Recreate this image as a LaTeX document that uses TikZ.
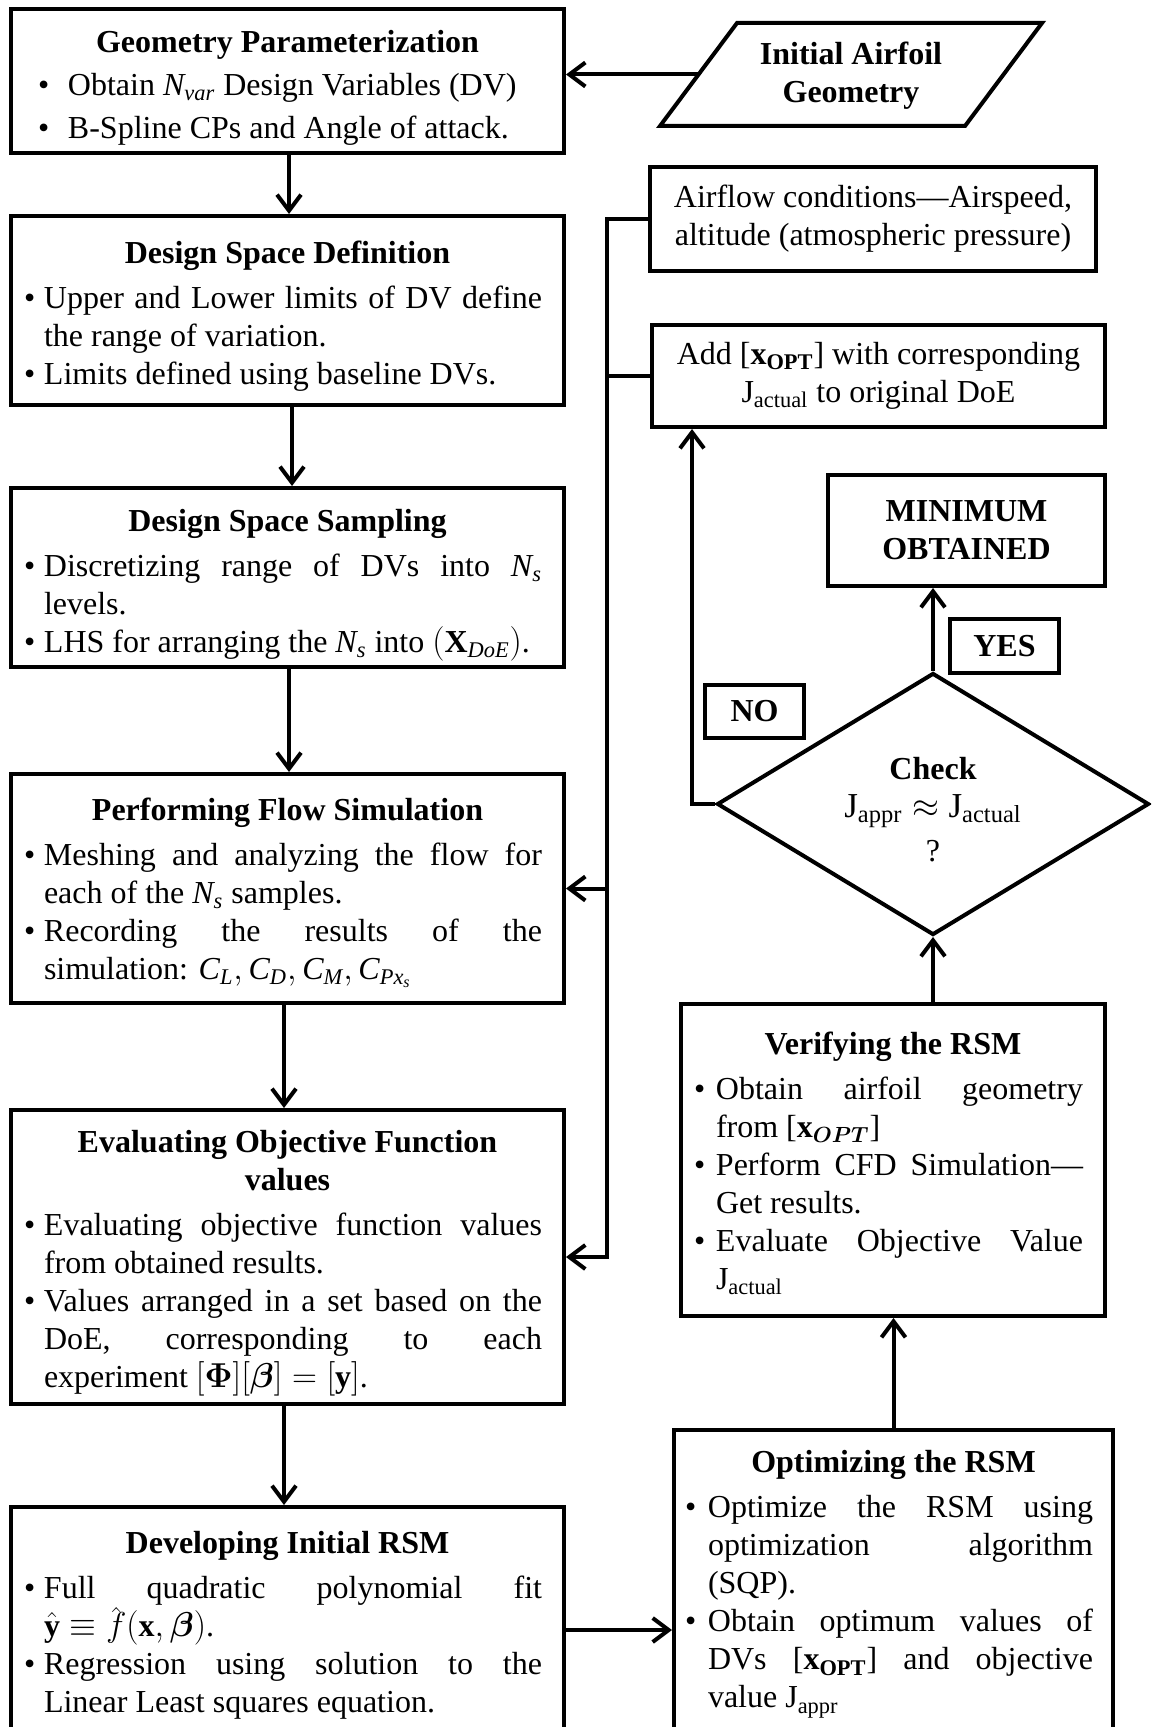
\documentclass[tikz,border=0pt]{standalone}
\usepackage{amsmath}
\usepackage{bm}
\usepackage{fontspec}
\setmainfont{Liberation Serif}
\usetikzlibrary{arrows.meta,shapes.geometric,calc}
\newdimen\bxl \newdimen\bxr \newdimen\bxi
\newcommand\boxsetup{\parindent=0pt\parskip=0pt\tolerance=10000\hbadness=10000\hyphenpenalty=10000\exhyphenpenalty=10000}
\newcommand\ttl[3][3.5pt]{{\centering\bfseries\rule{0pt}{#2}#3\par}\vspace{#1}}
\newcommand\bul[1]{{\leftskip=\bxl\relax\rightskip=\bxr\relax\hangindent=\bxi\relax\hangafter=1\relax\noindent\hbox to\bxi{\textbullet\hfil}#1\par}}
\begin{document}
\begin{tikzpicture}[x=0.5pt,y=-0.5pt,line width=2pt,
  font=\fontsize{16}{19}\selectfont,
  arr/.style={-{Straight Barb[length=8pt,width=12pt]}},
  lbox/.style={draw, inner xsep=0pt, inner ysep=0pt, text width=276.5pt, minimum width=276.5pt, align=justify,
    execute at begin node={\boxsetup\bxl=6.5pt\bxr=11pt\bxi=10pt}},
  lboxa/.style={lbox, font=\fontsize{16}{21.5}\selectfont,
    execute at begin node={\boxsetup\bxl=13.5pt\bxr=11pt\bxi=15pt}},
  rboxo/.style={draw, inner xsep=0pt, inner ysep=0pt, text width=219.5pt, minimum width=219.5pt, align=justify,
    execute at begin node={\boxsetup\bxl=5.5pt\bxr=10pt\bxi=11.5pt}},
  rboxv/.style={draw, inner xsep=0pt, inner ysep=0pt, text width=212pt, minimum width=212pt, align=justify,
    execute at begin node={\boxsetup\bxl=6.5pt\bxr=11pt\bxi=11pt}},
  cbox/.style={draw, inner sep=0pt, align=center},
  tag/.style={draw, inner sep=0pt, align=center, line width=1.7pt, font=\fontsize{16}{19}\selectfont\bfseries}
]
\useasboundingbox (0,0) rectangle (1151,1727);
\clip (0,0) rectangle (1151,1727);

% left column
\node[lboxa, minimum height=72pt] (b1) at (287.5,81)
 {\ttl[0pt]{18.2pt}{Geometry Parameterization}\bul{Obtain $\mathit{N_{var}}$ Design Variables (DV)}\bul{B-Spline CPs and Angle of attack.}};
\node[lbox, minimum height=94.5pt] (b2) at (287.5,310.5)
 {\ttl{16.5pt}{Design Space Definition}\bul{Upper and Lower limits of DV define\linebreak the range of variation.}\bul{Limits defined using baseline DVs.}};
\node[lbox, minimum height=89.5pt] (b3) at (287.5,577.5)
 {\ttl{18.7pt}{Design Space Sampling}\bul{Discretizing range of DVs into $\mathit{N_s}$\linebreak levels.}\bul{LHS for arranging the $\mathit{N_s}$ into $(\mathbf{X}_{\mathit{DoE}})$.}};
\node[lbox, minimum height=114.5pt] (b4) at (287.5,888.5)
 {\ttl{15.4pt}{Performing Flow Simulation}\bul{Meshing and analyzing the flow for\linebreak each of the $\mathit{N_s}$ samples.}\bul{Recording the results of the\linebreak simulation: $\mathit{C_L}, \mathit{C_D}, \mathit{C_M}, \mathit{C_{Px_s}}$}};
\node[lbox, minimum height=147pt] (b5) at (287.5,1257)
 {\ttl{17pt}{Evaluating Objective Function\linebreak values}\bul{Evaluating objective function values\linebreak from obtained results.}\bul{Values arranged in a set based on the\linebreak DoE, corresponding to each\linebreak experiment $[\bm{\Phi}][\bm{\beta}]=[\mathbf{y}]$.}};
\node[lbox, minimum height=112pt] (b6) at (287.5,1619)
 {\ttl{17pt}{Developing Initial RSM}\bul{Full quadratic polynomial fit\linebreak $\hat{\mathbf{y}}\equiv\hat{\smash[t]{f}\rule{0pt}{0.6em}}(\mathbf{x},\bm{\beta})$.}\bul{Regression using solution to the\linebreak Linear Least squares equation.}};

% right column
\node[rboxo, minimum height=150.5pt] (b7) at (893.5,1580.5)
 {\ttl{14.9pt}{Optimizing the RSM}\bul{Optimize the RSM using\linebreak optimization algorithm\linebreak (SQP).}\bul{Obtain optimum values of\linebreak DVs [$\mathbf{x}_{\mathbf{OPT}}$] and objective\linebreak value J$_{\mathrm{appr}}$}};
\node[rboxv, minimum height=156pt] (b8) at (893,1160)
 {\ttl{14.3pt}{Verifying the RSM}\bul{Obtain airfoil geometry\linebreak from [$\mathbf{x}_{\bm{OPT}}$]}\bul{Perform CFD Simulation—\linebreak Get results.}\bul{Evaluate Objective Value\linebreak J$_{\mathrm{actual}}$}};
\node[cbox, minimum width=226.5pt, minimum height=51pt] (add) at (878.5,376)
 {Add [$\mathbf{x}_{\mathbf{OPT}}$] with corresponding\\J$_{\mathrm{actual}}$ to original DoE};
\node[cbox, minimum width=223pt, minimum height=52pt] (air) at (873,219)
 {Airflow conditions—Airspeed,\\altitude (atmospheric pressure)};
\node[cbox, minimum width=138.5pt, minimum height=55.5pt, font=\fontsize{16}{19}\selectfont\bfseries] (mini) at (966.5,530.5)
 {MINIMUM\\OBTAINED};
\node[tag, minimum width=54.5pt, minimum height=27pt] (yes) at (1004.5,646) {YES};
\node[tag, minimum width=49.5pt, minimum height=26.5pt] (no) at (754.5,711.5) {NO};
\node[draw, diamond, shape aspect=1.65, inner sep=0pt, minimum width=216pt, minimum height=131pt, align=center] (dia) at (933,804)
 {\rule{0pt}{17pt}\textbf{Check}\\{\fontsize{17.5}{19}\selectfont$\mathrm{J}_{\mathrm{appr}}\approx\mathrm{J}_{\mathrm{actual}}$}\\[3pt]?};

% input parallelogram
\coordinate (p1) at (737,23);
\coordinate (p2) at (1042,23);
\coordinate (p3) at (965,126);
\coordinate (p4) at (660,126);
\draw (p1) -- (p2) -- (p3) -- (p4) -- cycle;
\node[align=center, font=\fontsize{16}{19}\selectfont\bfseries] (para) at (851,75.5) {Initial Airfoil\\Geometry};
\coordinate (pin) at ($(p1)!0.5!(p4)$);

% connectors
\draw[arr] (pin) -- (pin -| b1.east);
\draw[arr] ([xshift=0.75pt]b1.south) -- ([xshift=0.75pt]b2.north);
\draw[arr] ([xshift=2.25pt]b2.south) -- ([xshift=2.25pt]b3.north);
\draw[arr] ([xshift=0.75pt]b3.south) -- ([xshift=0.75pt]b4.north);
\draw[arr] ([xshift=-1.75pt]b4.south) -- ([xshift=-1.75pt]b5.north);
\draw[arr] ([xshift=-1.75pt]b5.south) -- ([xshift=-1.75pt]b6.north);
\coordinate (busx) at (607,0);
\draw[arr] (air.west) -- (air.west -| busx) |- (b5.east);
\draw (add.west) -- (add.west -| busx);
\draw[arr] (b4.east -| busx) -- (b4.east);
\draw[arr] ([yshift=-5.5pt]b6.east) -- ([yshift=-5.5pt]b6.east -| b7.west);
\draw[arr] (b7.north) -- (b7.north |- b8.south);
\draw[arr] (dia.south |- b8.north) -- (dia.south);
\draw[arr] (dia.north) -- (dia.north |- mini.south);
\coordinate (nox) at (692,0);
\draw[arr] (dia.west) -| (nox |- add.south);
\end{tikzpicture}
\end{document}
